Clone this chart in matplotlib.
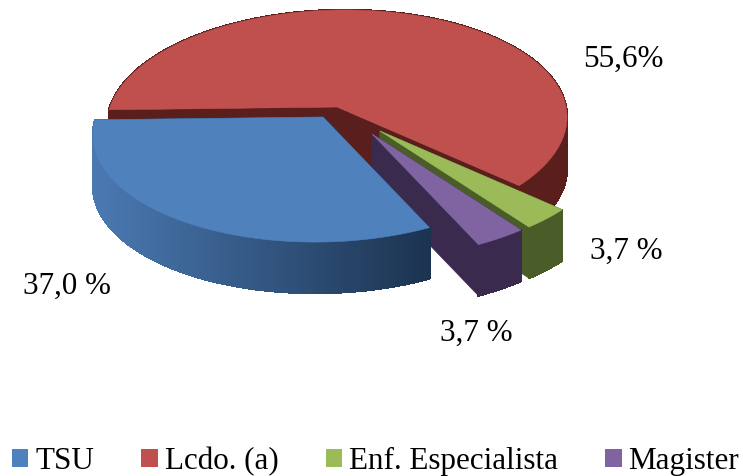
import numpy as np
import matplotlib
matplotlib.use("Agg")
import matplotlib.pyplot as plt
from matplotlib.collections import PolyCollection
from matplotlib.patches import Patch
from matplotlib.colors import to_rgb

categories = ["TSU", "Lcdo. (a)", "Enf. Especialista", "Magister"]
values = [37.0, 55.6, 3.7, 3.7]
value_labels = ["37,0 %", "55,6%", "3,7 %", "3,7 %"]

top_colors = ["#4F81BD", "#C0504D", "#9BBB59", "#8064A2"]
wall_colors = [("#4A79B2", "#1C3350"), ("#5A1F1C", "#5A1F1C"),
               ("#4A5C27", "#4A5C27"), ("#3A2A4E", "#3A2A4E")]
inner_colors = ["#1C3350", "#5A1F1C", "#4A5C27", "#3A2A4E"]
explode = [(-14, 10), (0, 0), (43, 24), (35, 27)]
label_pos = [(23, 294), (583, 67), (590, 259), (440, 341)]
draw_order = [1, 2, 3, 0]

APEX = (337.0, 107.0)
CX, CY, RX, RY, TILT = 337.0, 121.0, 230.0, 111.0, -0.017
DEPTH = 51.0
START = 46.1
# the original's 3-D projection bends the angle around the lower right rim
WARP_CENTRE, WARP_SIZE, WARP_WIDTH = 19.5, 3.9, 6.0

plt.rcParams["font.family"] = ["Liberation Serif", "DejaVu Serif"]
fig = plt.figure(figsize=(7.43, 4.76), dpi=100)
ax = fig.add_axes([0, 0, 1, 1])
ax.set_xlim(0, 743)
ax.set_ylim(476, 0)
ax.axis("off")

t = np.linspace(0, 2 * np.pi, 1441)[:-1]
ex = CX + RX * np.cos(t)
ey = CY + RY * np.sin(t) + TILT * RX * np.cos(t)
phi = np.degrees(np.arctan2(ey - APEX[1], ex - APEX[0])) % 360


def rim(a0, a1):
    a = np.linspace(a0, a1, max(int(abs(a1 - a0)) * 3, 12))
    return (np.interp(a % 360, phi, ex, period=360),
            np.interp(a % 360, phi, ey, period=360))


shares = np.array(values) / np.sum(values) * 360.0
edges = START + np.concatenate([[0], np.cumsum(shares)])
delta = (edges - WARP_CENTRE + 180) % 360 - 180
edges = edges + WARP_SIZE * np.exp(-(delta / WARP_WIDTH) ** 2)

for i in draw_order:
    rx, ry = rim(edges[i], edges[i + 1])
    off_x, off_y = explode[i]
    ox, oy = APEX[0] + off_x, APEX[1] + off_y
    px, py = rx + off_x, ry + off_y
    inner = [[(ox, oy), (qx, qy), (qx, qy + DEPTH), (ox, oy + DEPTH)]
             for qx, qy in ((px[0], py[0]), (px[-1], py[-1]))]
    ax.add_collection(PolyCollection(inner, facecolors=inner_colors[i],
                                     edgecolors=inner_colors[i], linewidths=0.6))
    c0, c1 = np.array(to_rgb(wall_colors[i][0])), np.array(to_rgb(wall_colors[i][1]))
    xs, xe = px.min(), px.max()
    quads, cols = [], []
    for k in range(len(px) - 1):
        quads.append([(px[k], py[k]), (px[k + 1], py[k + 1]),
                      (px[k + 1], py[k + 1] + DEPTH), (px[k], py[k] + DEPTH)])
        f = ((px[k] + px[k + 1]) / 2 - xs) / max(xe - xs, 1)
        cols.append(c0 + (c1 - c0) * f)
    ax.add_collection(PolyCollection(quads, facecolors=cols, edgecolors=cols,
                                     linewidths=1.0, antialiaseds=False))
    ax.fill(np.r_[ox, px], np.r_[oy, py], color=top_colors[i], lw=0.4)

for lab, (x, y) in zip(value_labels, label_pos):
    ax.text(x, y, lab, fontsize=22.4, color="black", ha="left", va="baseline")

handles = [Patch(facecolor=c, edgecolor="none") for c in top_colors]
ax.legend(handles, categories, ncol=4, loc="lower left", bbox_to_anchor=(12, 476),
          bbox_transform=ax.transData, frameon=False, fontsize=22.4, borderpad=0,
          borderaxespad=0, handlelength=0.52, handleheight=0.52, handletextpad=0.22,
          columnspacing=1.53, labelspacing=0)

fig.savefig("out.png", dpi=100)
